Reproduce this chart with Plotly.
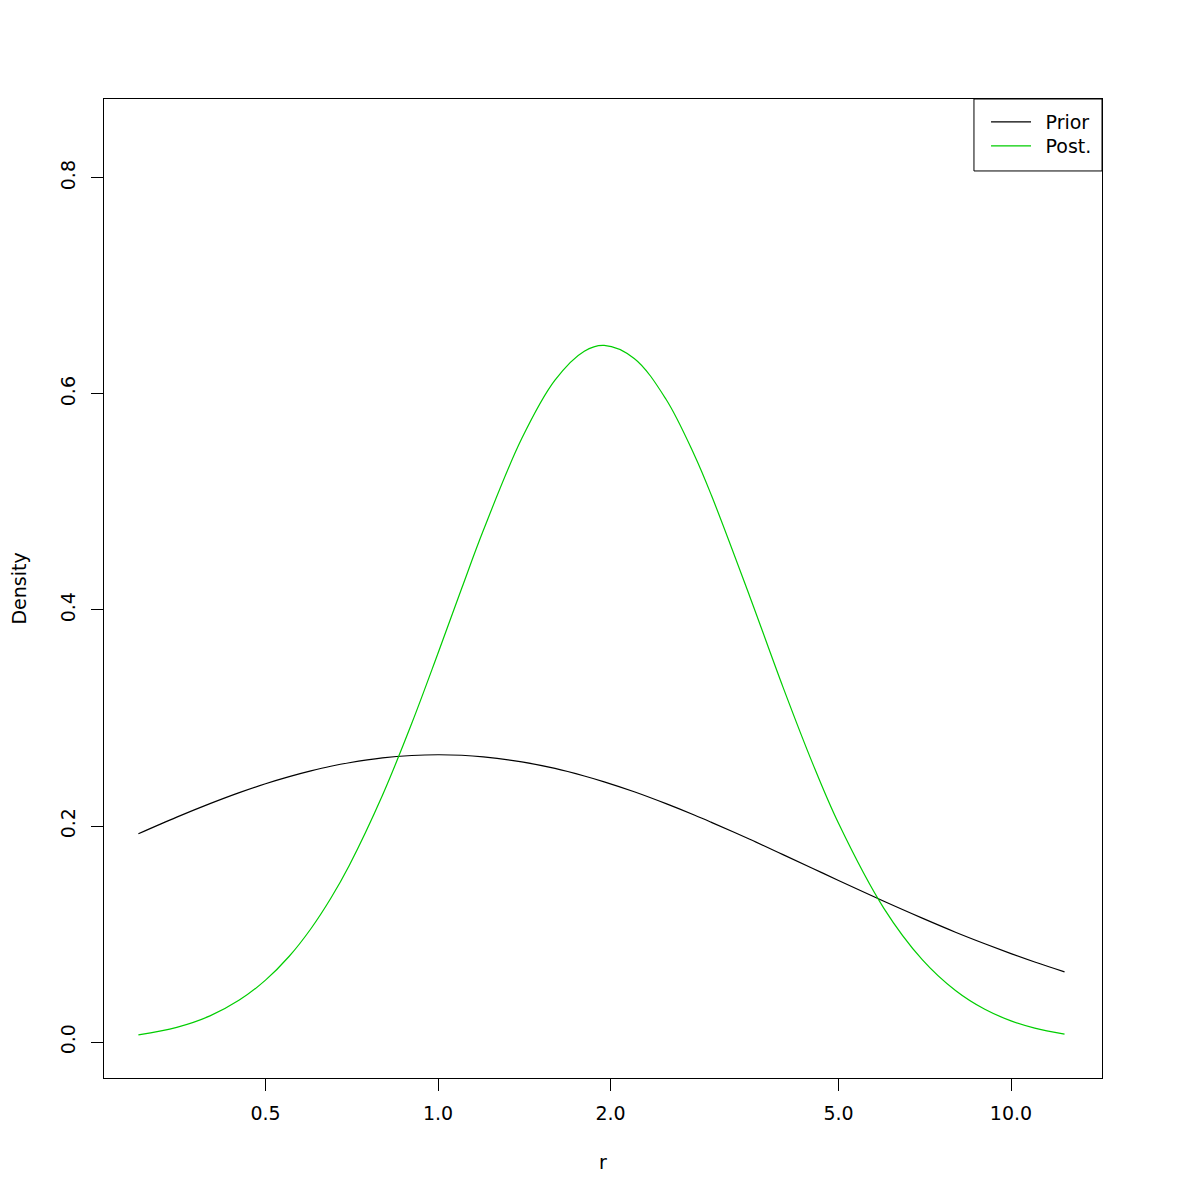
import plotly.graph_objects as go

r_vals = [0.3, 0.35, 0.4, 0.45, 0.5, 0.55, 0.6, 0.65, 0.7, 0.8, 0.9, 1.0, 1.1, 1.2, 1.4,
          1.6, 1.8, 1.95, 2.2, 2.5, 2.8, 3.0, 3.5, 4.0, 4.5, 5.0, 6.0, 7.0, 8.0, 9.0,
          10.0, 11.0, 12.4]
prior_vals = [0.1928, 0.2082, 0.2207, 0.2309, 0.2391, 0.2457, 0.2510, 0.2553, 0.2586,
              0.2631, 0.2653, 0.2660, 0.2655, 0.2640, 0.2594, 0.2533, 0.2463, 0.2409,
              0.2317, 0.2207, 0.2102, 0.2034, 0.1877, 0.1735, 0.1609, 0.1496, 0.1303,
              0.1147, 0.1017, 0.0910, 0.0819, 0.0741, 0.0650]
post_vals = [0.0066, 0.0136, 0.0242, 0.0388, 0.0573, 0.0794, 0.1049, 0.1331, 0.1635,
             0.2285, 0.2951, 0.3600, 0.4201, 0.4738, 0.5587, 0.6128, 0.6396, 0.6450,
             0.6329, 0.5951, 0.5437, 0.5062, 0.4125, 0.3286, 0.2587, 0.2025, 0.1238,
             0.0763, 0.0477, 0.0303, 0.0196, 0.0129, 0.0074]
series_names = ["Prior", "Post."]
x_ticks = [0.5, 1.0, 2.0, 5.0, 10.0]
x_tick_labels = ["0.5", "1.0", "2.0", "5.0", "10.0"]
y_ticks = [0.0, 0.2, 0.4, 0.6, 0.8]
y_tick_labels = ["0.0", "0.2", "0.4", "0.6", "0.8"]

FONT = "DejaVu Sans"
FS = 19
GAP = "\u2002"

fig = go.Figure()
fig.add_trace(go.Scatter(x=r_vals, y=prior_vals, mode="lines", name=GAP + series_names[0],
                         legend="legend",
                         line=dict(color="black", width=1.2, shape="spline")))
fig.add_trace(go.Scatter(x=r_vals, y=post_vals, mode="lines", name=GAP + series_names[1],
                         legend="legend2",
                         line=dict(color="#00cd00", width=1.2, shape="spline")))

# legend frame (R-style box in the top-right corner)
fig.add_shape(type="rect", xref="paper", yref="paper",
              x0=0.8717, x1=1.0, y0=0.9265, y1=1.0,
              line=dict(color="black", width=1), fillcolor="rgba(0,0,0,0)")

leg_common = dict(xanchor="left", yanchor="top", borderwidth=0,
                  bgcolor="rgba(0,0,0,0)", font=dict(family=FONT, size=FS),
                  itemwidth=40)

fig.update_layout(
    width=1200, height=1200,
    margin=dict(l=96, r=106, t=91, b=130),
    paper_bgcolor="white", plot_bgcolor="white",
    font=dict(family=FONT, size=FS, color="black"),
    showlegend=True,
    legend=dict(x=0.8838, y=0.9959, **leg_common),
    legend2=dict(x=0.8838, y=0.9714, **leg_common),
    xaxis=dict(type="log", range=[-0.5829, 1.1588],
               tickvals=x_ticks, ticktext=x_tick_labels,
               ticks="outside", ticklen=12, tickcolor="black", tickwidth=1,
               ticklabelstandoff=6,
               showline=True, linecolor="black", linewidth=1, mirror=True,
               showgrid=False, zeroline=False, automargin=False,
               title=dict(text="r", standoff=32, font=dict(size=FS))),
    yaxis=dict(range=[-0.0333, 0.8731],
               tickvals=y_ticks, ticktext=y_tick_labels, tickangle=-90,
               ticks="outside", ticklen=12, tickcolor="black", tickwidth=1,
               ticklabelstandoff=8,
               showline=True, linecolor="black", linewidth=1, mirror=True,
               showgrid=False, zeroline=False, automargin=False,
               title=dict(text="Density", standoff=26, font=dict(size=FS))),
)

fig.write_html("out.html")
